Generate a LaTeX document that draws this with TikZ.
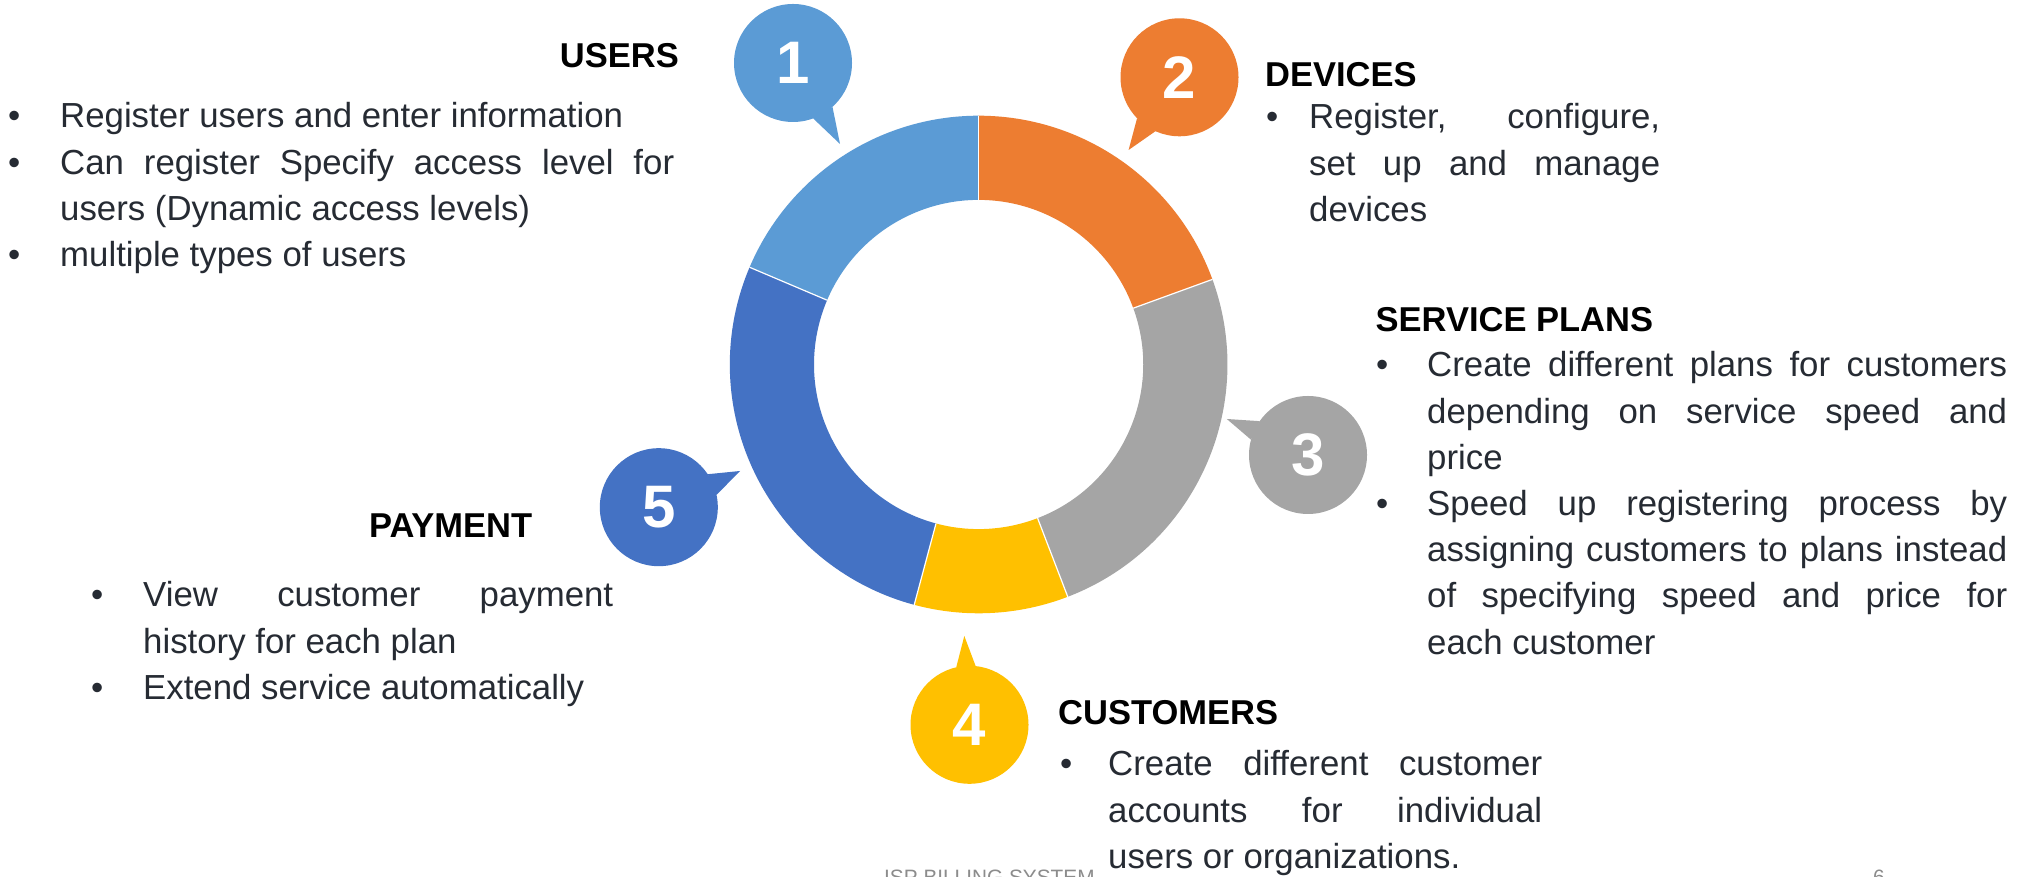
\documentclass[tikz,border=0pt]{standalone}
\usepackage{fontspec}
\setmainfont{Liberation Sans}
\usetikzlibrary{calc}
\definecolor{usersblue}{HTML}{5B9BD5}
\definecolor{devicesorange}{HTML}{ED7D31}
\definecolor{plansgray}{HTML}{A5A5A5}
\definecolor{customersyellow}{HTML}{FFC000}
\definecolor{paymentblue}{HTML}{4472C4}
\definecolor{bodytext}{HTML}{262B33}
\definecolor{footergray}{HTML}{8C8C8C}
\newcommand{\bodyfont}{\fontsize{34.8}{46.2}\selectfont}
\newcommand{\headfont}{\fontsize{34.5}{40}\selectfont\bfseries}
\newcommand{\numfont}{\fontsize{60}{60}\selectfont\bfseries}
\newlength{\bulletgap}
\newcommand{\bitem}[1]{\noindent\hangindent=\bulletgap\hangafter=1\makebox[\bulletgap][l]{\textbullet}#1\par}
\tolerance=10000
\hyphenpenalty=10000
\exhyphenpenalty=10000
\tikzstyle{bubble} = [circle, minimum size=118pt, inner sep=0pt, outer sep=0pt, text=white, font=\numfont]
\tikzstyle{heading} = [inner sep=0pt, text=black, font=\headfont]
\tikzstyle{itemlist} = [inner sep=0pt, text=bodytext, font=\bodyfont, align=justify, anchor=base west]
\tikzstyle{footer} = [inner sep=0pt, text=footergray, font=\fontsize{20.8}{21}\selectfont, anchor=base west]
\tikzstyle{seam} = [white, line width=1.2pt]
\begin{document}
\begin{tikzpicture}[x=1pt, y=1pt]
		\clip (0,0) rectangle (2023,877);
		\fill[white] (0,0) rectangle (2023,877);
		% ring
		\coordinate (RingCenter) at (978.6,512.5);
		\foreach \start/\stop/\segcol in {90/157/usersblue, 20/90/devicesorange, -69/20/plansgray, -105/-69/customersyellow, 157/255/paymentblue}
			\fill[fill=\segcol] ($(RingCenter)+(\start:248.8)$) arc[start angle=\start, end angle=\stop, radius=248.8] -- ($(RingCenter)+(\stop:164.6)$) arc[start angle=\stop, end angle=\start, radius=164.6] -- cycle;
		\foreach \cut in {20,90,157,255,291}
			\draw[seam] ($(RingCenter)+(\cut:164.6)$) -- ($(RingCenter)+(\cut:248.8)$);
		% callouts
		\node (BubbleOne) [bubble, fill=usersblue] at (793,814) {1};
		\coordinate (TipOne) at (840,733);
		\fill[usersblue] (BubbleOne.-70) -- (TipOne) -- (BubbleOne.-48) -- cycle;
		\node (BubbleTwo) [bubble, fill=devicesorange] at (1179.5,799.7) {2};
		\coordinate (TipTwo) at (1128.6,727);
		\fill[devicesorange] (BubbleTwo.-136) -- (TipTwo) -- (BubbleTwo.-114) -- cycle;
		\node (BubbleThree) [bubble, fill=plansgray] at (1308,422) {3};
		\coordinate (TipThree) at (1226.8,458);
		\fill[plansgray] (BubbleThree.145.5) -- (TipThree) -- (BubbleThree.165.5) -- cycle;
		\node (BubbleFour) [bubble, fill=customersyellow] at (969.5,152.2) {4};
		\coordinate (TipFour) at (964.3,241);
		\fill[customersyellow] (BubbleFour.103) -- (TipFour) -- (BubbleFour.84) -- cycle;
		\node (BubbleFive) [bubble, fill=paymentblue] at (658.8,369.8) {5};
		\coordinate (TipFive) at (740,406);
		\fill[paymentblue] (BubbleFive.34.4) -- (TipFive) -- (BubbleFive.12.7) -- cycle;
		% headings
		\node (UsersHead) [heading, anchor=base east] at (679,809) {USERS};
		\node (DevicesHead) [heading, anchor=base west] at (1265,790) {DEVICES};
		\node (PlansHead) [heading, anchor=base west] at (1375.5,545) {SERVICE PLANS};
		\node (PaymentHead) [heading, anchor=base west] at (369,339) {PAYMENT};
		\node (CustomersHead) [heading, anchor=base west] at (1058,152) {CUSTOMERS};
		% bullet lists
		\node (UsersList) [itemlist, text width=666pt] at (8,749) {\setlength{\bulletgap}{52pt}%
			\bitem{Register users and enter information}
			\bitem{Can register Specify access level for\linebreak users (Dynamic access levels)}
			\bitem{multiple types of users}};
		\node (DevicesList) [itemlist, text width=394pt] at (1266,748) {\setlength{\bulletgap}{43pt}%
			\bitem{Register, configure,\linebreak set up and manage\linebreak devices}};
		\node (PlansList) [itemlist, text width=631pt] at (1376,500) {\setlength{\bulletgap}{51pt}%
			\bitem{Create different plans for customers\linebreak depending on service speed and\linebreak price}
			\bitem{Speed up registering process by\linebreak assigning customers to plans instead\linebreak of specifying speed and price for\linebreak each customer}};
		\node (PaymentList) [itemlist, text width=522pt] at (91,270) {\setlength{\bulletgap}{52pt}%
			\bitem{View customer payment\linebreak history for each plan}
			\bitem{Extend service automatically}};
		\node (CustomersList) [itemlist, text width=482pt] at (1060,101) {\setlength{\bulletgap}{48pt}%
			\bitem{Create different customer\linebreak accounts for individual\linebreak users or organizations.}};
		% footer
		\node (FooterTitle) [footer] at (884,-8) {ISP BILLING SYSTEM};
		\node (FooterPage) [footer] at (1873,-8) {6};
\end{tikzpicture}
\end{document}
